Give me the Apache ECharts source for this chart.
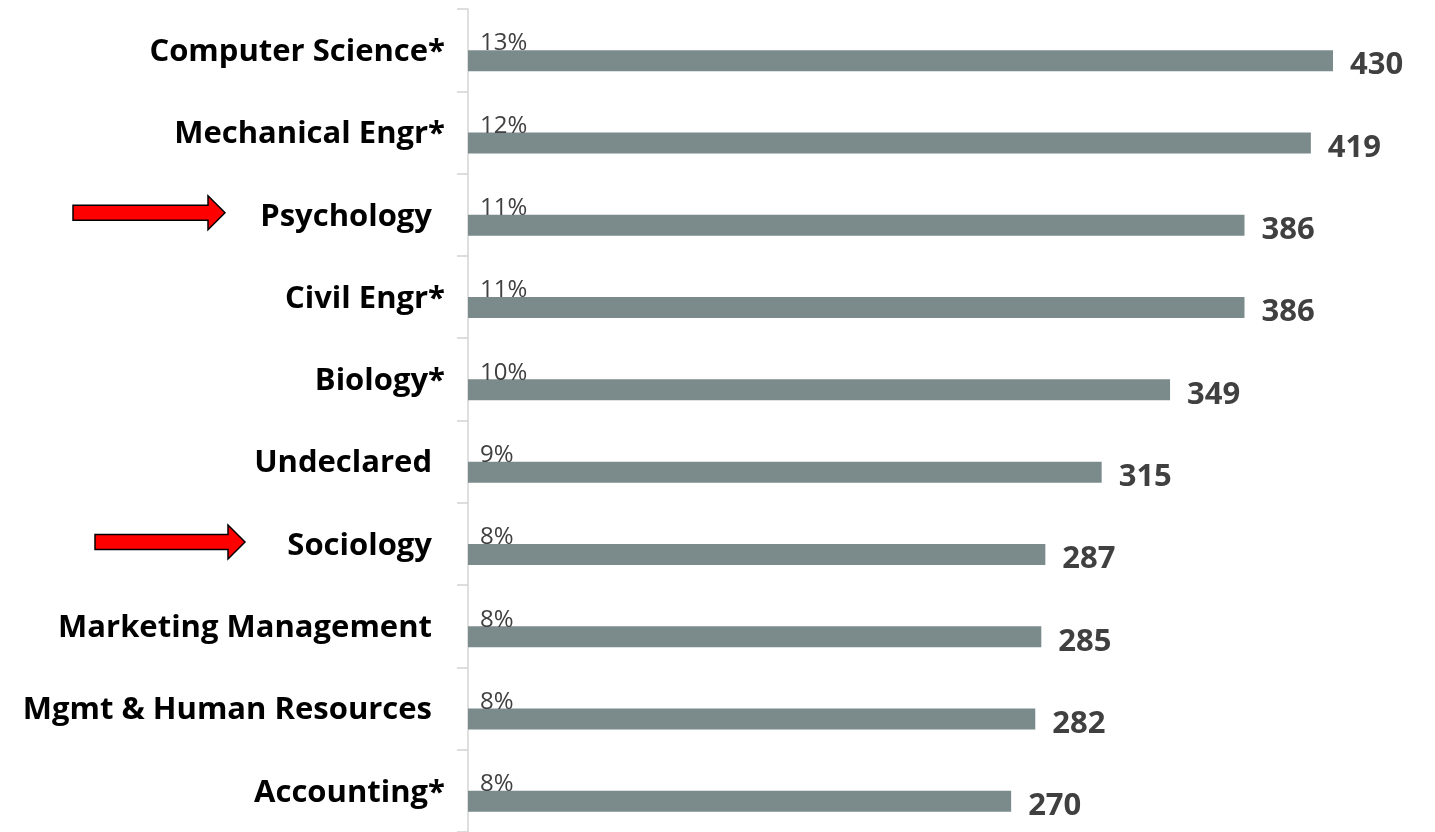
<!DOCTYPE html>
<html>
<head>
<meta charset="utf-8">
<script src="https://cdn.jsdelivr.net/npm/echarts@6/dist/echarts.min.js"></script>
<style>
  html, body { margin: 0; padding: 0; background: #fff; }
  #chart { width: 1435px; height: 832px; }
</style>
</head>
<body>
<div id="chart"></div>
<script>
// majors, top to bottom
const majors = [
  'Computer Science*', 'Mechanical Engr*', 'Psychology', 'Civil Engr*', 'Biology*',
  'Undeclared', 'Sociology', 'Marketing Management', 'Mgmt & Human Resources', 'Accounting*'
];
const counts = [430, 419, 386, 386, 349, 315, 287, 285, 282, 270];
const shares = [13, 12, 11, 11, 10, 9, 8, 8, 8, 8];
const flagged = ['Psychology', 'Sociology'];

const chart = echarts.init(document.getElementById('chart'));
const FONT = '"Open Sans", "Noto Sans", sans-serif';

chart.setOption({
  animation: false,
  grid: { left: 468, top: 9, width: 865, height: 827 },
  xAxis: {
    type: 'value', min: 0, max: v => v.max,
    show: false, splitLine: { show: false }
  },
  yAxis: {
    type: 'category', data: majors, inverse: true,
    axisLine: { lineStyle: { color: '#d4d4d4', width: 1.5 } },
    axisTick: { show: true, inside: false, length: 11, lineStyle: { color: '#d4d4d4', width: 1.5 } },
    axisLabel: {
      margin: 23,
      formatter: v => v.endsWith('*') ? '{a|' + v + '}' : '{b|' + v + '}',
      rich: {
        a: { fontFamily: FONT, fontWeight: 'bold', fontSize: 31, color: '#000', padding: [4, 0, 0, 0] },
        b: { fontFamily: FONT, fontWeight: 'bold', fontSize: 31, color: '#000', padding: [4, 13, 0, 0] }
      }
    }
  },
  series: [
    {
      // invisible carrier for the share labels above each bar
      type: 'bar', data: counts, barWidth: 21, barGap: '0%',
      itemStyle: { color: 'rgba(0,0,0,0)' },
      silent: true,
      label: {
        show: true, position: 'insideLeft', distance: 12, offset: [0, 4],
        formatter: p => shares[p.dataIndex] + '%',
        fontFamily: FONT, fontSize: 24, color: '#404040'
      }
    },
    {
      type: 'bar', data: counts, barWidth: 21,
      itemStyle: { color: '#7b8b8b' },
      label: {
        show: true, position: 'right', distance: 17, offset: [0, 5],
        fontFamily: FONT, fontWeight: 'bold', fontSize: 31, color: '#404040'
      }
    }
  ]
});

// red arrows pointing at the flagged majors
const arrowSpan = { Psychology: [73, 225], Sociology: [95, 245] };
function arrow(x0, x1, y) {
  const sh = 7.5, hh = 17, hl = 17;
  return {
    type: 'polygon',
    shape: { points: [[x0, y - sh], [x1 - hl, y - sh], [x1 - hl, y - hh], [x1, y], [x1 - hl, y + hh], [x1 - hl, y + sh], [x0, y + sh]] },
    style: { fill: '#ff0000', stroke: '#000', lineWidth: 1.5 }
  };
}
chart.setOption({
  graphic: flagged.map(name => {
    const y = chart.convertToPixel({ yAxisIndex: 0 }, name) - 2;
    const [x0, x1] = arrowSpan[name];
    return arrow(x0, x1, y);
  })
});
</script>
</body>
</html>
